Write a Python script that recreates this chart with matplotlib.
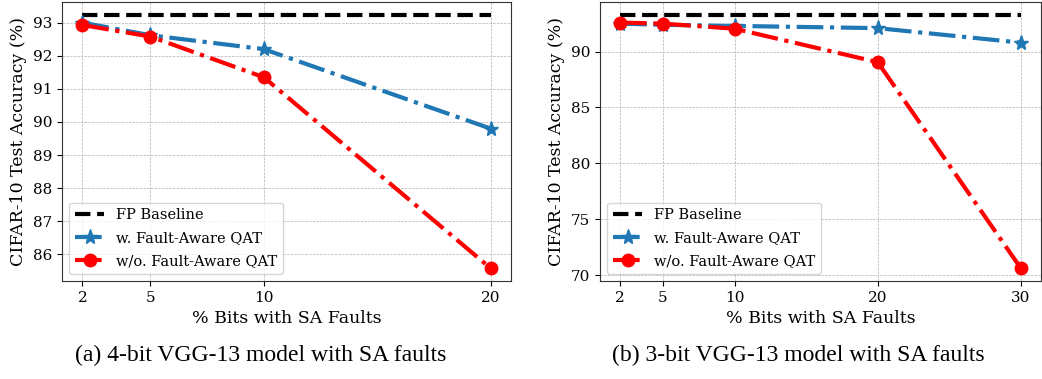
import matplotlib
matplotlib.use("Agg")
import matplotlib.pyplot as plt

# Data
x_a = [2, 5, 10, 20]
fp_a = 93.24
aware_a = [93.0, 92.62, 92.2, 89.8]
naive_a = [92.93, 92.58, 91.35, 85.58]

x_b = [2, 5, 10, 20, 30]
fp_b = 93.3
aware_b = [92.5, 92.4, 92.3, 92.1, 90.8]
naive_b = [92.6, 92.5, 92.05, 89.05, 70.6]

captions = ["(a) 4-bit VGG-13 model with SA faults",
            "(b) 3-bit VGG-13 model with SA faults"]

plt.rcParams['font.family'] = 'DejaVu Serif'

fig = plt.figure(figsize=(10.42, 3.79), dpi=100)
ax1 = fig.add_axes([0.0595, 0.2586, 0.431, 0.736])
ax2 = fig.add_axes([0.5758, 0.2586, 0.4232, 0.736])


def draw(ax, x, fp, aware, naive):
    ax.plot([x[0], x[-1]], [fp, fp], 'k--', lw=3, label='FP Baseline')
    ax.plot(x, aware, '-.', color='#1f77b4', lw=3, marker='*', ms=11,
            label='w. Fault-Aware QAT')
    ax.plot(x, naive, '-.', color='red', lw=3, marker='o', ms=9,
            label='w/o. Fault-Aware QAT')
    ax.set_xticks(x)
    ax.grid(True, ls='--', lw=0.5, color='#b0b0b0')
    ax.tick_params(labelsize=11)
    ax.set_xlabel('% Bits with SA Faults', fontsize=12.5)
    ax.set_ylabel('CIFAR-10 Test Accuracy (%)', fontsize=12.5)
    for s in ax.spines.values():
        s.set_color('#333333')
    ax.legend(loc='lower left', fontsize=10.5, framealpha=0.8,
              labelspacing=0.6)


draw(ax1, x_a, fp_a, aware_a, naive_a)
draw(ax2, x_b, fp_b, aware_b, naive_b)

fig.text(0.25, 0.063, captions[0], ha='center', va='center',
         family='Liberation Serif', fontsize=17)
fig.text(0.766, 0.063, captions[1], ha='center', va='center',
         family='Liberation Serif', fontsize=17)

fig.savefig('out.png', dpi=100)
